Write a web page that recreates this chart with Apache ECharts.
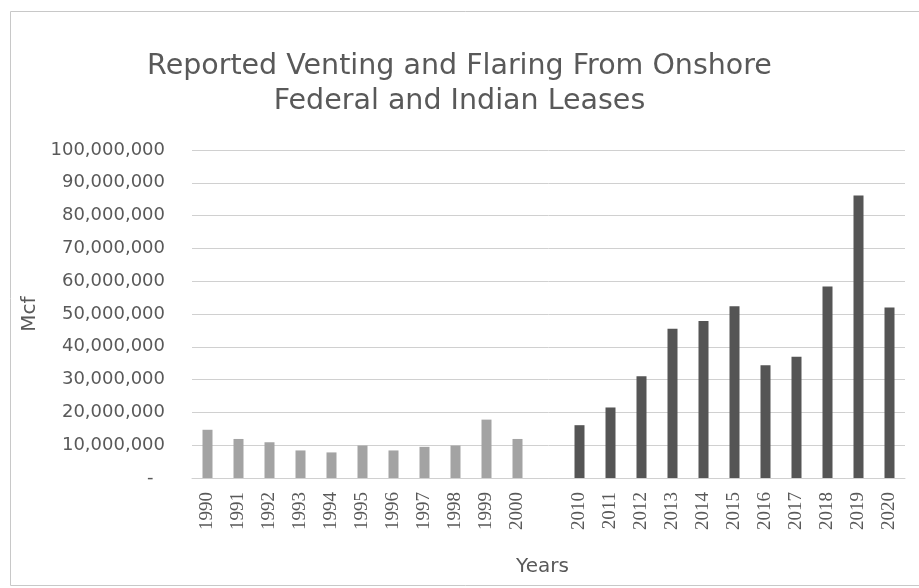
<!DOCTYPE html>
<html>
<head>
<meta charset="utf-8">
<script src="https://cdn.jsdelivr.net/npm/echarts@6/dist/echarts.min.js"></script>
<style>
html,body{margin:0;padding:0;background:#fff;}
#chart{width:919px;height:588px;}
</style>
</head>
<body>
<div id="chart"></div>
<script>
const titleLines = ['Reported Venting and Flaring From Onshore', 'Federal and Indian Leases'];
const earlyYears = ['1990','1991','1992','1993','1994','1995','1996','1997','1998','1999','2000'];
const earlyValues = [14700000, 11900000, 10900000, 8400000, 7800000, 9900000, 8400000, 9500000, 9900000, 17800000, 11900000];
const gapCategories = [''];
const lateYears = ['2010','2011','2012','2013','2014','2015','2016','2017','2018','2019','2020'];
const lateValues = [16100000, 21500000, 31000000, 45500000, 47900000, 52400000, 34400000, 37000000, 58400000, 86100000, 52000000];
const yTicks = {min: 0, max: 100000000, interval: 10000000};

const categories = earlyYears.concat(gapCategories, lateYears);
const nullsGap = gapCategories.map(() => null);
const earlySeries = earlyValues.concat(nullsGap, lateYears.map(() => null));
const lateSeries = earlyYears.map(() => null).concat(nullsGap, lateValues);

const chart = echarts.init(document.getElementById('chart'), null, {renderer: 'canvas'});
const txt = '#595959';
chart.setOption({
  animation: false,
  backgroundColor: '#ffffff',
  title: {
    text: titleLines.join('\n'),
    left: 'center',
    top: 44,
    textStyle: {fontFamily: 'DejaVu Sans', fontSize: 28.5, fontWeight: 'normal', color: txt, lineHeight: 35}
  },
  graphic: [{
    type: 'rect', left: 8, top: 9,
    shape: {width: 930, height: 574},
    style: {fill: 'none', stroke: '#c8c8c8', lineWidth: 1}
  }],
  grid: {left: 192, right: 14, top: 150, bottom: 110, containLabel: false},
  xAxis: {
    type: 'category',
    data: categories,
    name: 'Years',
    nameLocation: 'middle',
    nameGap: 79,
    nameTextStyle: {fontFamily: 'DejaVu Sans', fontSize: 20, color: txt, padding: [0, 12, 0, 0]},
    axisLine: {show: true, lineStyle: {color: '#d0d0d0', width: 1}},
    axisTick: {show: false},
    axisLabel: {rotate: 90, margin: 14, interval: 0, fontFamily: 'Liberation Serif', fontSize: 19, color: txt}
  },
  yAxis: {
    type: 'value',
    min: yTicks.min, max: yTicks.max, interval: yTicks.interval,
    name: 'Mcf',
    nameLocation: 'middle',
    nameGap: 152,
    nameRotate: 90,
    nameTextStyle: {fontFamily: 'DejaVu Sans', fontSize: 20, color: txt},
    axisLine: {show: false},
    axisTick: {show: false},
    splitLine: {lineStyle: {color: '#d0d0d0', width: 1}},
    axisLabel: {
      margin: 27,
      fontFamily: 'DejaVu Sans', fontSize: 18, color: txt,
      formatter: function (v) { return v === 0 ? '-  ' : v.toLocaleString('en-US'); }
    }
  },
  series: [
    {type: 'bar', data: earlySeries, barWidth: 10, barGap: '-100%', itemStyle: {color: '#a3a3a3'}},
    {type: 'bar', data: lateSeries, barWidth: 10, barGap: '-100%', itemStyle: {color: '#555555'}}
  ]
});
</script>
</body>
</html>
